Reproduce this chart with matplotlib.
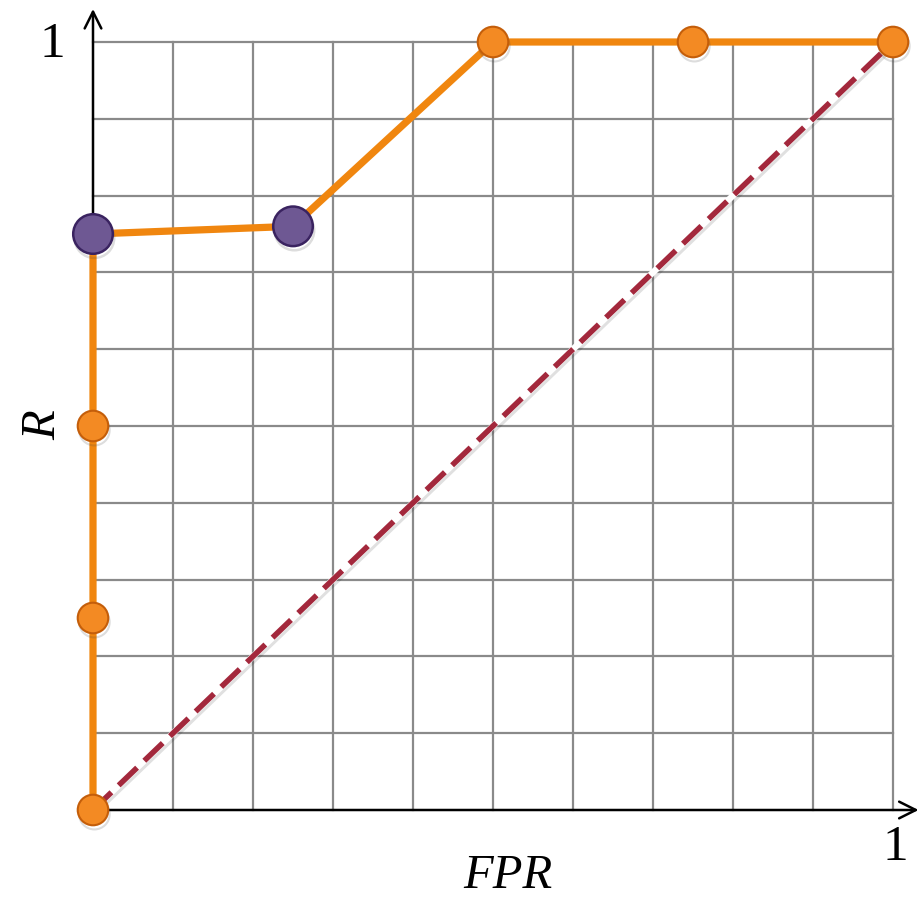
import matplotlib
matplotlib.use("Agg")
import matplotlib.pyplot as plt
import numpy as np
import matplotlib.patheffects as pe

# ROC curve points (FPR, Recall)
roc_fpr = [0.0, 0.0, 0.0, 0.0, 0.25, 0.5, 0.75, 1.0]
roc_rec = [0.0, 0.25, 0.5, 0.75, 0.76, 1.0, 1.0, 1.0]
# highlighted points on the curve
hi_fpr = [0.0, 0.25]
hi_rec = [0.75, 0.76]
# random-classifier diagonal
diag_x = [0.0, 1.0]
diag_y = [0.0, 1.0]

grid_ticks = np.linspace(0, 1, 11)

fig = plt.figure(figsize=(9.23, 9.08), dpi=100)
ax = fig.add_axes([93 / 923, 98 / 908, 800 / 923, 768 / 908])
ax.set_xlim(0, 1)
ax.set_ylim(0, 1)
ax.axis("off")

grid_color = "#8a8a8a"
for t in grid_ticks[1:]:
    ax.plot([t, t], [0, 1], color=grid_color, lw=1.6, zorder=1, clip_on=False)
    ax.plot([0, 1], [t, t], color=grid_color, lw=1.6, zorder=1, clip_on=False)

# axes with arrows
arrow_kw = dict(arrowstyle="->", lw=1.8, color="black",
                mutation_scale=30, shrinkA=0, shrinkB=0)
ax.annotate("", xy=(1.032, 0), xytext=(0, 0), xycoords="data",
            arrowprops=arrow_kw, annotation_clip=False, zorder=2)
ax.annotate("", xy=(0, 1.043), xytext=(0, 0), xycoords="data",
            arrowprops=arrow_kw, annotation_clip=False, zorder=2)

# diagonal: white underlay with dashed dark red on top
ax.plot(diag_x, diag_y, color="white", lw=4.6, zorder=3, solid_capstyle="butt",
        path_effects=[pe.SimpleLineShadow(offset=(1.5, -1.5), alpha=0.12), pe.Normal()])
ax.plot(diag_x, diag_y, color="#A3283C", lw=4.0, zorder=4,
        dashes=(4.6, 1.8), dash_capstyle="butt")

# ROC curve
ax.plot(roc_fpr, roc_rec, color="#F0860F", lw=5.2, zorder=5,
        solid_joinstyle="miter", clip_on=False)

shadow = [pe.SimpleLineShadow(offset=(1, -3), alpha=0.18, shadow_color="#444444"), pe.Normal()]
hi_pairs = list(zip(hi_fpr, hi_rec))
orange_idx = [i for i in range(len(roc_fpr)) if (roc_fpr[i], roc_rec[i]) not in hi_pairs]
ax.plot([roc_fpr[i] for i in orange_idx], [roc_rec[i] for i in orange_idx],
        linestyle="none", marker="o", markersize=22, markerfacecolor="#F38A23",
        markeredgecolor="#C45E0A", markeredgewidth=1.5, zorder=6, clip_on=False,
        path_effects=shadow)
ax.plot(hi_fpr, hi_rec, linestyle="none", marker="o", markersize=28.5,
        markerfacecolor="#6E5893", markeredgecolor="#3A2360", markeredgewidth=1.8,
        zorder=7, clip_on=False, path_effects=shadow)

serif = ["Liberation Serif", "DejaVu Serif"]
fig.text(52 / 923, 1 - 45 / 908, "1", fontsize=37, family=serif,
         ha="center", va="center")
fig.text(895 / 923, 1 - 848 / 908, "1", fontsize=37, family=serif,
         ha="center", va="center")
fig.text(508 / 923, 1 - 876 / 908, "FPR", fontsize=35, family=serif,
         style="italic", ha="center", va="center")
fig.text(43 / 923, 1 - 425 / 908, "R", fontsize=35, family=serif,
         style="italic", ha="center", va="center", rotation=90)

fig.savefig("out.png", dpi=100, facecolor="white")
